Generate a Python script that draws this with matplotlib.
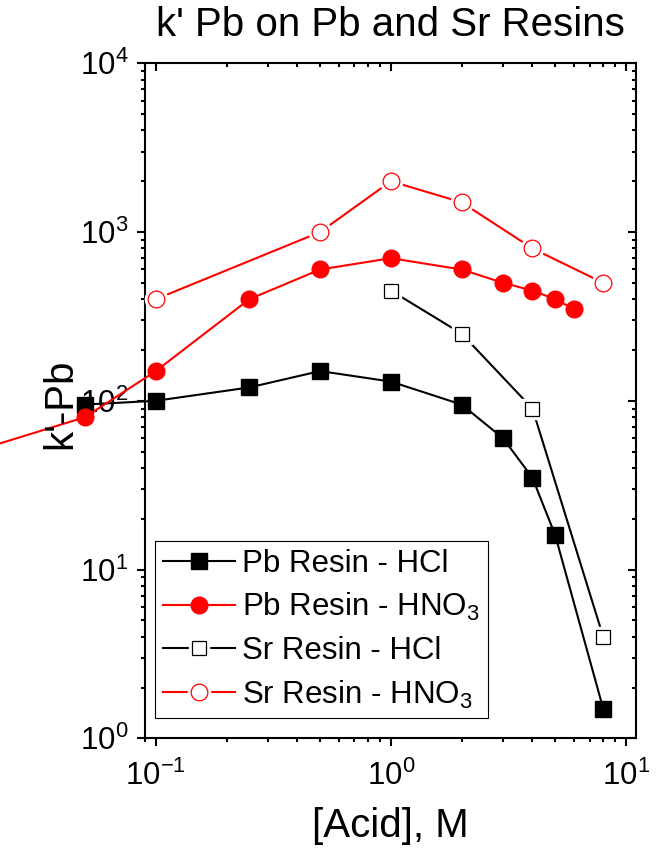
import matplotlib
matplotlib.use("Agg")
import matplotlib.pyplot as plt

plt.rcParams["font.family"] = ["Liberation Sans", "DejaVu Sans"]
plt.rcParams["mathtext.fontset"] = "custom"
plt.rcParams["mathtext.rm"] = "Liberation Sans"
plt.rcParams["mathtext.it"] = "Liberation Sans:italic"
plt.rcParams["mathtext.bf"] = "Liberation Sans:bold"
plt.rcParams["mathtext.default"] = "regular"

# k' for Pb on Pb Resin and Sr Resin vs. acid concentration (M)
acid_pb_hcl = [0.05, 0.1, 0.25, 0.5, 1, 2, 3, 4, 5, 8]
k_pb_hcl = [95, 100, 120, 150, 130, 95, 60, 35, 16, 1.5]

acid_pb_hno3 = [0.01, 0.05, 0.1, 0.25, 0.5, 1, 2, 3, 4, 5, 6]
k_pb_hno3 = [40, 80, 150, 400, 600, 700, 600, 500, 450, 400, 350]

acid_sr_hcl = [1, 2, 4, 8]
k_sr_hcl = [450, 250, 90, 4]

acid_sr_hno3 = [0.1, 0.5, 1, 2, 4, 8]
k_sr_hno3 = [400, 1000, 2000, 1500, 800, 500]

labels = ["Pb Resin - HCl", "Pb Resin - HNO$_3$",
          "Sr Resin - HCl", "Sr Resin - HNO$_3$"]

W, H = 657, 851
fig = plt.figure(figsize=(W / 100, H / 100), dpi=100)
rect = [145 / W, 1 - 738.3 / H, 490.7 / W, 675 / H]
ax = fig.add_axes(rect)
ax.set_axisbelow(True)

LW = 1.5

# filled series
h_pb_hcl, = ax.plot(acid_pb_hcl, k_pb_hcl, color="k", lw=LW, marker="s",
                    ms=11.5, mfc="k", mec="k", clip_on=False, zorder=3)
h_pb_hno3, = ax.plot(acid_pb_hno3, k_pb_hno3, color="red", lw=LW, marker="o",
                     ms=12, mfc="red", mec="red", clip_on=False, zorder=3)


def open_series(x, y, color, marker, ms):
    """Line with open markers; a white halo leaves a small gap around each marker."""
    ln, = ax.plot(x, y, color=color, lw=LW, clip_on=False, zorder=3)
    halo, = ax.plot(x, y, ls="none", marker=marker, ms=ms + 4, mfc="white",
                    mec="white", mew=1, clip_on=False, zorder=3.1)
    mk, = ax.plot(x, y, ls="none", marker=marker, ms=ms, mfc="white",
                  mec=color, mew=0.9, clip_on=False, zorder=3.2)
    return (ln, halo, mk)


h_sr_hcl = open_series(acid_sr_hcl, k_sr_hcl, "k", "s", 10)
h_sr_hno3 = open_series(acid_sr_hno3, k_sr_hno3, "red", "o", 12)

ax.set_xscale("log")
ax.set_yscale("log")
ax.set_xlim(0.09, 11)
ax.set_ylim(1, 1e4)

for sp in ax.spines.values():
    sp.set_linewidth(1.5)

ax.tick_params(which="both", direction="out", width=1.5, labelsize=22.5,
               top=False, right=False)
ax.tick_params(which="major", length=6)
ax.tick_params(which="minor", length=3.2)
ax.tick_params(axis="y", pad=6)
ax.tick_params(axis="x", pad=10)

# mirrored ticks on top/right point inward
ax_m = fig.add_axes(rect, sharex=ax, sharey=ax, frameon=False)
ax_m.tick_params(which="both", direction="in", width=1.5, top=True, right=True,
                 bottom=False, left=False, labeltop=False, labelright=False,
                 labelbottom=False, labelleft=False)
ax_m.tick_params(which="major", length=6)
ax_m.tick_params(which="minor", length=3.2)
ax_m.patch.set_visible(False)

leg = ax.legend([h_pb_hcl, h_pb_hno3, h_sr_hcl, h_sr_hno3], labels,
                loc="upper left", bbox_to_anchor=((155 - 145) / 490.7, (738.3 - 541) / 675),
                borderaxespad=0, numpoints=1, fontsize=22.5, handlelength=2.3,
                handletextpad=0.25, borderpad=0.25, labelspacing=0.4,
                fancybox=False, framealpha=1, edgecolor="k")
leg.get_frame().set_linewidth(0.8)

fig.text(390.4 / W, 1 - 25 / H, "k' Pb on Pb and Sr Resins", ha="center",
         va="center", fontsize=29)
fig.text(390.4 / W, 1 - 826 / H, "[Acid], M", ha="center", va="center",
         fontsize=29)
fig.text(60 / W, 1 - 404 / H, "k'-Pb", ha="center", va="center",
         rotation=90, fontsize=29)

fig.savefig("out.png", dpi=100)
